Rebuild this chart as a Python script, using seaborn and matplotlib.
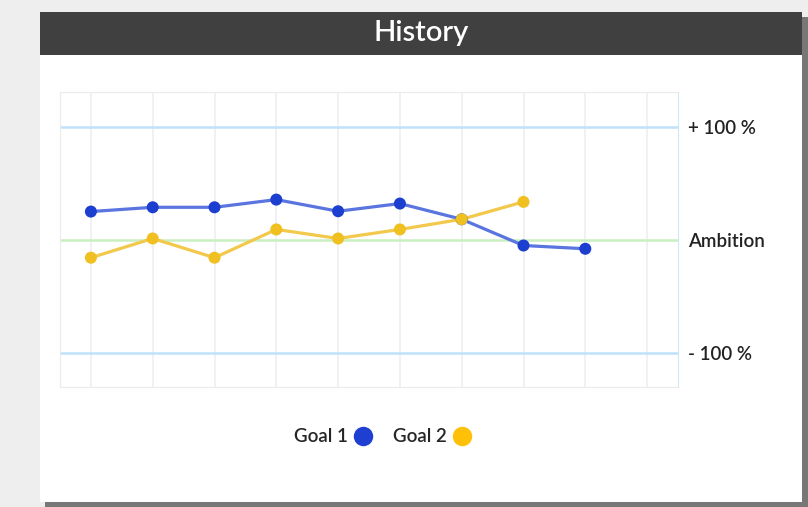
import matplotlib.pyplot as plt
import numpy as np
import pandas as pd
import seaborn as sns
from matplotlib.lines import Line2D
from matplotlib.patches import Rectangle

# data (percent relative to ambition)
periods = list(range(10))
goal_1 = [25.2, 29.0, 29.0, 35.8, 25.5, 32.3, 18.4, -4.8, -7.7, np.nan]
goal_2 = [-15.6, 1.4, -15.6, 9.4, 1.4, 9.4, 18.4, 33.8, np.nan, np.nan]
ref_levels = [100, 0, -100]
ref_labels = ["+ 100 %", "Ambition", "- 100 %"]
series_names = ["Goal 1", "Goal 2"]

line_colors = {"Goal 1": "#5a74e0", "Goal 2": "#f2c94c"}
dot_colors = {"Goal 1": "#1c3fcf", "Goal 2": "#f0c020"}
legend_colors = {"Goal 1": "#1f3fd2", "Goal 2": "#ffc107"}

df = pd.DataFrame({
    "period": periods * 2,
    "value": goal_1 + goal_2,
    "goal": ["Goal 1"] * len(periods) + ["Goal 2"] * len(periods),
}).dropna()

sns.set_style("white")
plt.rcParams["font.family"] = ["Lato", "DejaVu Sans"]

W, H = 808, 507
fig = plt.figure(figsize=(W / 100, H / 100), dpi=100, facecolor="#eeeeee")

# card with drop shadow and dark header
fig.patches.append(Rectangle((45 / W, 0), 763 / W, 490 / H, transform=fig.transFigure,
                             facecolor="#777777", edgecolor="none", zorder=0))
fig.patches.append(Rectangle((40 / W, 5 / H), 762 / W, 490 / H, transform=fig.transFigure,
                             facecolor="white", edgecolor="none", zorder=1))
fig.patches.append(Rectangle((40 / W, 452 / H), 762 / W, 43 / H, transform=fig.transFigure,
                             facecolor="#404040", edgecolor="none", zorder=2))
fig.text(421 / W, 474 / H, "History", color="white", fontsize=21, fontweight="semibold",
         ha="center", va="center", zorder=3)

ax = fig.add_axes([60 / W, 120 / H, 618 / W, 295 / H])
ax.set_facecolor("white")
ax.set_zorder(5)

for level, color in zip(ref_levels, ["#bfe2fb", "#c9efc0", "#bfe2fb"]):
    ax.axhline(level, color=color, lw=1.8, zorder=1)

sns.lineplot(data=df, x="period", y="value", hue="goal", palette=line_colors,
             lw=2.3, legend=False, ax=ax, zorder=2)
sns.scatterplot(data=df, x="period", y="value", hue="goal", palette=dot_colors,
                s=75, edgecolor="none", legend=False, ax=ax, zorder=3)

ax.set_xlim(-0.5, 9.5)
ax.set_ylim(-130, 131)
ax.set_xticks(periods)
ax.set_xticklabels([])
ax.grid(axis="x", color="#efefef", lw=1.2)
ax.tick_params(axis="x", length=0)
ax.yaxis.tick_right()
ax.set_yticks(ref_levels)
ax.set_yticklabels(ref_labels, fontsize=13.5, color="#222222", fontweight="semibold")
ax.tick_params(axis="y", length=0, pad=7)
ax.set_xlabel("")
ax.set_ylabel("")
for side in ["left", "top", "bottom"]:
    ax.spines[side].set_color("#ebebeb")
ax.spines["right"].set_color("#cde8fb")

handles = [Line2D([], [], marker="o", ls="", markersize=14,
                  markerfacecolor=legend_colors[n], markeredgecolor="none")
           for n in series_names]
fig.legend(handles, series_names, loc="center", bbox_to_anchor=(384 / W, 70 / H),
           ncol=2, frameon=False, markerfirst=False,
           prop={"size": 13.5, "weight": "semibold"},
           handletextpad=0.2, columnspacing=1.0, handlelength=1.2)

fig.savefig("out.png", dpi=100, facecolor=fig.get_facecolor())
